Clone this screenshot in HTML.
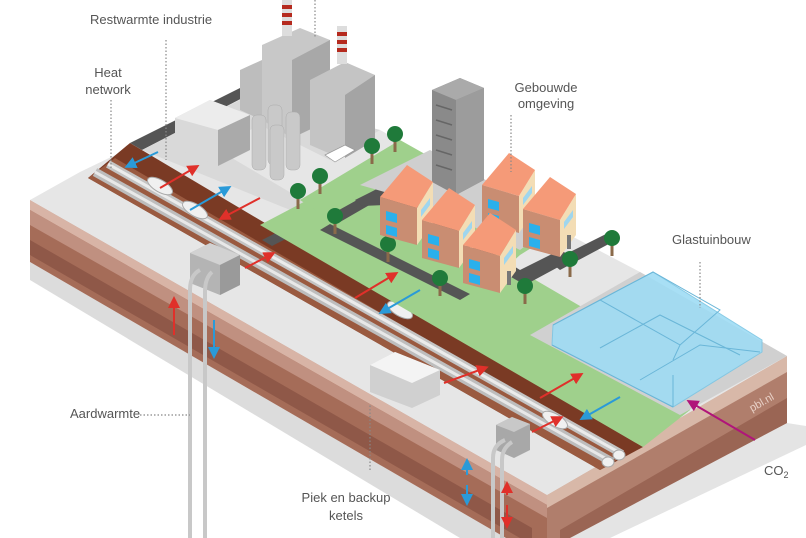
<!DOCTYPE html>
<html><head><meta charset="utf-8"><style>
html,body{margin:0;padding:0;background:#fff;}
svg{display:block;}
text{font-family:"Liberation Sans",Arial,sans-serif;font-size:13px;fill:#555;}
</style></head><body>
<svg width="806" height="538" viewBox="0 0 806 538" xmlns="http://www.w3.org/2000/svg">
<defs>
<marker id="ar" markerWidth="6" markerHeight="6" refX="4" refY="3" orient="auto"><path d="M0,0 L6,3 L0,6 z" fill="#e0302a"/></marker>
<marker id="ab" markerWidth="6" markerHeight="6" refX="4" refY="3" orient="auto"><path d="M0,0 L6,3 L0,6 z" fill="#2a9ad8"/></marker>
<marker id="am" markerWidth="6" markerHeight="6" refX="4" refY="3" orient="auto"><path d="M0,0 L6,3 L0,6 z" fill="#b0157a"/></marker>
<g id="tree"><rect x="-1.5" y="0" width="3" height="14" fill="#8a6a4a"/><circle cx="0" cy="-4" r="8" fill="#1f7a3a"/></g>
<g id="house">
 <polygon points="0,32 37,43 37,80 0,70" fill="#c98d72"/>
 <polygon points="37,43 53,17 53,58 37,80" fill="#f3ddb5"/>
 <polygon points="0,32 27,0 53,17 37,43" fill="#f59a78"/>
 <polygon points="6,46 17,49 17,58 6,55" fill="#2ab0ec"/>
 <polygon points="6,60 17,63 17,72 6,69" fill="#2ab0ec"/>
 <polygon points="41,45 50,33 50,40 41,52" fill="#9fd6ee"/>
 <rect x="44" y="58" width="4" height="14" fill="#777"/>
</g>
</defs>

<!-- shadow -->
<polygon points="563,538 787,423 806,426 806,445 610,538" fill="#e4e4e4"/>
<polygon points="30,262 30,280 460,538 506,538" fill="#dcdcdc"/>

<!-- front face -->
<polygon points="30,200 547,495 547,538 506,538 30,262" fill="#a56c58"/>
<polygon points="30,200 547,495 547,505 30,210" fill="#d8b4a6"/>
<polygon points="30,210 547,505 547,518 30,225" fill="#c09080"/>
<polygon points="30,240 532,528 532,538 520,538 30,255" fill="#8f5848"/>
<!-- right face -->
<polygon points="547,495 787,356 787,423 563,538 547,538" fill="#b07e6c"/>
<polygon points="547,495 787,356 787,372 547,508" fill="#d8b8a8"/>
<polygon points="560,530 787,398 787,423 570,538 560,538" fill="#9a6554"/>
<text x="752" y="412" style="font-size:11px;fill:#e8d0c6" transform="rotate(-30 752 412)">pbl.nl</text>

<!-- top surface -->
<polygon points="30,200 80,172 240,95 380,130 560,230 640,272 787,356 547,495" fill="#e6e6e6"/>
<!-- trench -->
<polygon points="88,178 130,143 643,447 600,470" fill="#7a3a24"/>
<polygon points="88,178 115,158 625,455 600,470" fill="#9a5a40"/>
<!-- pipes -->
<line x1="95" y1="172" x2="612" y2="462" stroke="#bdbdbd" stroke-width="9"/>
<line x1="95" y1="172" x2="612" y2="462" stroke="#e8e8e8" stroke-width="3"/>
<line x1="108" y1="164" x2="622" y2="454" stroke="#c4c4c4" stroke-width="8"/>
<line x1="108" y1="164" x2="622" y2="454" stroke="#ececec" stroke-width="3"/>
<g fill="#f0f0f0" stroke="#aaa" stroke-width="1">
<ellipse cx="160" cy="186" rx="14" ry="6" transform="rotate(30 160 186)"/>
<ellipse cx="195" cy="210" rx="14" ry="6" transform="rotate(30 195 210)"/>
<ellipse cx="400" cy="310" rx="14" ry="6" transform="rotate(30 400 310)"/>
<ellipse cx="555" cy="420" rx="14" ry="6" transform="rotate(30 555 420)"/>
<ellipse cx="608" cy="462" rx="6" ry="5"/><ellipse cx="619" cy="455" rx="6" ry="5"/>
</g>

<!-- industrial dark road -->
<polygon points="130,143 240,88 250,94 142,150" fill="#555"/>
<polygon points="142,150 250,95 380,130 330,160 260,125 215,148 320,210 310,218" fill="#d9d9d9"/>
<polygon points="262,240 340,200 350,206 272,246" fill="#555"/>
<!-- green strip along trench -->
<polygon points="260,225 355,175 690,370 690,410 643,447" fill="#9fd08c"/>
<!-- residential pad -->
<polygon points="300,200 400,140 560,230 520,255 470,300 400,265" fill="#9fd08c"/>
<polygon points="330,215 420,165 430,170 340,222" fill="#555"/>
<polygon points="320,230 460,300 470,294 330,224" fill="#555"/>
<polygon points="355,200 385,185 520,270 560,250 575,258 525,285 385,205 362,206" fill="#555"/>
<polygon points="360,185 430,150 560,220 520,250 480,230 430,205" fill="#cfcfcf"/>
<polygon points="550,262 610,232 620,238 560,270" fill="#555"/>
<!-- glasshouse pad -->
<polygon points="530,335 640,272 787,356 680,415" fill="#d0d0d0"/>
<polygon points="552,345 553,325 653,272 762,340 762,352 673,407" fill="#9fdcf4" stroke="#7cc6e4" stroke-width="1" opacity="0.9"/>
<g stroke="#6ab6d8" stroke-width="1" fill="none">
<polyline points="553,325 600,300 680,345 673,360"/>
<polyline points="600,300 653,272 720,310 680,345"/>
<polyline points="600,348 660,315 740,355"/>
<polyline points="640,380 700,345 760,352"/>
<line x1="552" y1="345" x2="673" y2="407"/>
<line x1="673" y1="375" x2="673" y2="407"/>
</g>

<!-- industry -->
<polygon points="262,45 300,28 330,40 330,120 292,138 262,120" fill="#c8c8c8"/>
<polygon points="292,60 330,40 330,120 292,138" fill="#a8a8a8"/>
<polygon points="240,70 262,60 262,120 240,110" fill="#bdbdbd"/>
<polygon points="310,80 345,62 375,75 375,140 340,158 310,145" fill="#c4c4c4"/>
<polygon points="345,95 375,75 375,140 345,158" fill="#a4a4a4"/>
<rect x="282" y="0" width="10" height="36" fill="#ddd"/>
<rect x="282" y="5" width="10" height="4" fill="#b52a1e"/><rect x="282" y="13" width="10" height="4" fill="#b52a1e"/><rect x="282" y="21" width="10" height="4" fill="#b52a1e"/>
<rect x="337" y="26" width="10" height="38" fill="#ddd"/>
<rect x="337" y="32" width="10" height="4" fill="#b52a1e"/><rect x="337" y="40" width="10" height="4" fill="#b52a1e"/><rect x="337" y="48" width="10" height="4" fill="#b52a1e"/>
<!-- office -->
<polygon points="175,118 210,100 250,115 250,150 218,166 175,148" fill="#d9d9d9"/>
<polygon points="175,118 210,100 250,115 218,130" fill="#ececec"/>
<polygon points="218,130 250,115 250,150 218,166" fill="#aaa"/>
<!-- silos -->
<g fill="#c9c9c9" stroke="#aaa" stroke-width="0.5">
<rect x="252" y="115" width="14" height="55" rx="5"/><rect x="268" y="105" width="14" height="60" rx="5"/>
<rect x="286" y="112" width="14" height="58" rx="5"/><rect x="270" y="125" width="14" height="55" rx="5"/>
</g>
<polygon points="325,155 345,145 355,150 335,162" fill="#fff" stroke="#999" stroke-width="0.7"/>
<!-- tower -->
<polygon points="432,90 460,78 484,88 484,180 456,195 432,182" fill="#8a8a8a"/>
<polygon points="432,90 460,78 484,88 456,100" fill="#aaa"/>
<polygon points="456,100 484,88 484,180 456,195" fill="#9c9c9c"/>
<g stroke="#666" stroke-width="1.5">
<line x1="436" y1="105" x2="452" y2="110"/><line x1="436" y1="120" x2="452" y2="125"/><line x1="436" y1="135" x2="452" y2="140"/><line x1="436" y1="150" x2="452" y2="155"/><line x1="436" y1="165" x2="452" y2="170"/>
</g>
<!-- trees -->
<use href="#tree" x="372" y="150"/><use href="#tree" x="395" y="138"/>
<use href="#tree" x="298" y="195"/><use href="#tree" x="320" y="180"/>
<use href="#tree" x="335" y="220"/><use href="#tree" x="388" y="248"/>
<use href="#tree" x="440" y="282"/><use href="#tree" x="570" y="263"/>
<use href="#tree" x="612" y="242"/><use href="#tree" x="525" y="290"/>
<!-- houses -->
<use href="#house" x="380" y="165"/>
<use href="#house" x="482" y="153"/>
<use href="#house" x="422" y="188"/>
<use href="#house" x="523" y="177"/>
<use href="#house" x="463" y="213"/>

<!-- boxes -->
<polygon points="190,253 210,243 240,255 240,285 220,295 190,283" fill="#b4b4b4"/>
<polygon points="190,253 210,243 240,255 220,265" fill="#d2d2d2"/>
<polygon points="220,265 240,255 240,285 220,295" fill="#9a9a9a"/>
<polygon points="370,365 395,352 440,370 440,395 412,408 370,392" fill="#d0d0d0"/>
<polygon points="370,365 395,352 440,370 412,383" fill="#f4f4f4"/>
<polygon points="496,425 512,417 530,424 530,450 514,458 496,450" fill="#a8a8a8"/>
<polygon points="496,425 512,417 530,424 514,432" fill="#c8c8c8"/>
<!-- wells -->
<g stroke="#c8c8c8" stroke-width="4" fill="none">
<path d="M200,270 Q190,275 190,290 L190,538"/><path d="M212,272 Q205,278 205,292 L205,538"/>
<path d="M505,440 Q493,445 493,458 L493,538"/><path d="M512,442 Q502,448 502,460 L502,538"/>
</g>

<!-- arrows -->
<g stroke-width="2" fill="none">
<line x1="158" y1="152" x2="128" y2="166" stroke="#2a9ad8" marker-end="url(#ab)"/>
<line x1="160" y1="188" x2="196" y2="167" stroke="#e0302a" marker-end="url(#ar)"/>
<line x1="190" y1="210" x2="228" y2="188" stroke="#2a9ad8" marker-end="url(#ab)"/>
<line x1="260" y1="198" x2="222" y2="218" stroke="#e0302a" marker-end="url(#ar)"/>
<line x1="245" y1="268" x2="272" y2="254" stroke="#e0302a" marker-end="url(#ar)"/>
<line x1="355" y1="298" x2="395" y2="274" stroke="#e0302a" marker-end="url(#ar)"/>
<line x1="420" y1="290" x2="382" y2="312" stroke="#2a9ad8" marker-end="url(#ab)"/>
<line x1="444" y1="383" x2="485" y2="368" stroke="#e0302a" marker-end="url(#ar)"/>
<line x1="540" y1="398" x2="580" y2="375" stroke="#e0302a" marker-end="url(#ar)"/>
<line x1="620" y1="397" x2="583" y2="418" stroke="#2a9ad8" marker-end="url(#ab)"/>
<line x1="532" y1="432" x2="560" y2="418" stroke="#e0302a" marker-end="url(#ar)"/>
<line x1="755" y1="440" x2="690" y2="402" stroke="#b0157a" marker-end="url(#am)"/>
<line x1="174" y1="335" x2="174" y2="300" stroke="#e0302a" marker-end="url(#ar)"/>
<line x1="214" y1="320" x2="214" y2="355" stroke="#2a9ad8" marker-end="url(#ab)"/>
<line x1="467" y1="475" x2="467" y2="462" stroke="#2a9ad8" marker-end="url(#ab)"/>
<line x1="467" y1="485" x2="467" y2="502" stroke="#2a9ad8" marker-end="url(#ab)"/>
<line x1="507" y1="495" x2="507" y2="485" stroke="#e0302a" marker-end="url(#ar)"/>
<line x1="507" y1="505" x2="507" y2="525" stroke="#e0302a" marker-end="url(#ar)"/>
</g>

<!-- leader lines -->
<g stroke="#888" stroke-width="1.2" stroke-dasharray="1.5,2" fill="none">
<line x1="166" y1="40" x2="166" y2="160"/>
<line x1="111" y1="100" x2="111" y2="170"/>
<line x1="315" y1="0" x2="315" y2="38"/>
<line x1="511" y1="115" x2="511" y2="172"/>
<line x1="700" y1="262" x2="700" y2="308"/>
<line x1="140" y1="415" x2="190" y2="415"/>
<line x1="370" y1="470" x2="370" y2="405"/>
</g>

<!-- labels -->
<text x="90" y="24">Restwarmte industrie</text>
<text x="108" y="77" text-anchor="middle">Heat</text>
<text x="108" y="94" text-anchor="middle">network</text>
<text x="546" y="92" text-anchor="middle">Gebouwde</text>
<text x="546" y="108" text-anchor="middle">omgeving</text>
<text x="672" y="244">Glastuinbouw</text>
<text x="70" y="418">Aardwarmte</text>
<text x="346" y="502" text-anchor="middle">Piek en backup</text>
<text x="346" y="520" text-anchor="middle">ketels</text>
<text x="764" y="475">CO<tspan style="font-size:9px" dy="3">2</tspan></text>
</svg>
</body></html>
